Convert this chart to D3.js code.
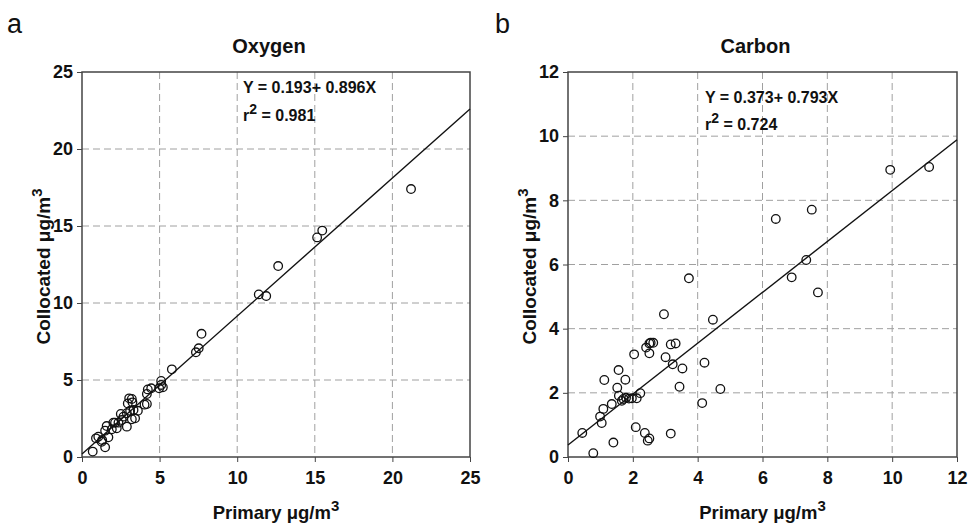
<!DOCTYPE html>
<html><head><meta charset="utf-8">
<script src="https://cdn.jsdelivr.net/npm/d3@7"></script>
<style>body{margin:0;background:#fff}text{font-family:"Liberation Sans",Arial,sans-serif}</style>
</head><body><svg id="c" width="971" height="526"></svg>
<script>
const oxygenPrimary = [21.2,15.15,15.48,12.64,11.39,11.87,7.7,7.52,7.34,5.79,5.1,5.1,4.97,5.21,4.46,4.24,4.18,4.18,4.03,3.04,3.21,3.25,2.95,3.32,3.1,2.89,3.42,3.21,2.67,2.56,2.89,2.35,2.13,2.24,1.92,1.59,1.49,1.7,1.05,0.9,1.27,1.49,0.69,2.02,2.5,3.6,1.3];
const oxygenCollocated = [17.4,14.26,14.7,12.4,10.56,10.45,8.0,7.06,6.8,5.69,4.94,4.68,4.46,4.53,4.46,4.39,4.09,3.44,3.4,3.81,3.77,3.55,3.48,3.05,3.0,2.84,2.51,2.45,2.62,2.4,1.97,2.23,2.23,1.86,1.8,2.01,1.71,1.28,1.32,1.21,0.99,0.63,0.35,2.23,2.8,3.0,1.1];
const carbonPrimary = [9.94,11.14,7.52,6.41,7.35,6.9,7.71,3.73,2.96,4.47,2.51,2.55,2.63,2.41,2.51,3.17,3.32,2.04,3.01,3.23,3.53,4.21,1.56,1.12,1.77,3.44,4.7,1.52,1.57,1.71,1.79,1.88,1.97,2.12,2.23,1.66,1.35,4.14,1.09,0.99,1.04,0.44,2.09,2.37,2.51,2.46,3.17,1.4,0.78];
const carbonCollocated = [8.95,9.04,7.71,7.42,6.14,5.6,5.13,5.57,4.45,4.28,3.54,3.56,3.56,3.41,3.23,3.51,3.54,3.2,3.11,2.89,2.76,2.94,2.71,2.4,2.41,2.19,2.12,2.16,1.91,1.81,1.85,1.82,1.83,1.83,1.99,1.75,1.65,1.68,1.5,1.26,1.06,0.75,0.93,0.75,0.58,0.51,0.73,0.45,0.12];
const oxygenTicks = [0,5,10,15,20,25];
const carbonTicks = [0,2,4,6,8,10,12];
const panels = [
  {letter:"a", title:"Oxygen", xs:oxygenPrimary, ys:oxygenCollocated, ticks:oxygenTicks, max:25, a:0.193, b:0.896, eq:"Y = 0.193+ 0.896X", r2:"0.981",
   left:82, right:470, eqX:243, eqY:93, r2Y:121, letterX:7},
  {letter:"b", title:"Carbon", xs:carbonPrimary, ys:carbonCollocated, ticks:carbonTicks, max:12, a:0.373, b:0.793, eq:"Y = 0.373+ 0.793X", r2:"0.724",
   left:568, right:957, eqX:705, eqY:103, r2Y:130, letterX:495}
];
const svg = d3.select("#c");
const plotTop = 72, plotBottom = 457;
panels.forEach(p => {
  const x = d3.scaleLinear().domain([0,p.max]).range([p.left,p.right]);
  const y = d3.scaleLinear().domain([0,p.max]).range([plotBottom,plotTop]);
  const g = svg.append("g");
  g.selectAll(".gx").data(p.ticks.slice(1,-1)).join("line")
    .attr("x1",d=>x(d)).attr("x2",d=>x(d)).attr("y1",plotTop).attr("y2",plotBottom)
    .attr("stroke","#a0a0a0").attr("stroke-width",1).attr("stroke-dasharray","7,4");
  g.selectAll(".gy").data(p.ticks.slice(1,-1)).join("line")
    .attr("y1",d=>y(d)).attr("y2",d=>y(d)).attr("x1",p.left).attr("x2",p.right)
    .attr("stroke","#a0a0a0").attr("stroke-width",1).attr("stroke-dasharray","7,4");
  g.append("rect").attr("x",p.left).attr("y",plotTop).attr("width",p.right-p.left).attr("height",plotBottom-plotTop)
    .attr("fill","none").attr("stroke","#444").attr("stroke-width",1.5);
  const xa = g.append("g").attr("transform",`translate(0,${plotBottom})`)
    .call(d3.axisBottom(x).tickValues(p.ticks).tickSize(5).tickPadding(9));
  xa.select(".domain").remove();
  xa.selectAll("line").attr("stroke","#444");
  xa.selectAll("text").attr("font-weight","bold").attr("font-size",18).attr("fill","#111");
  const ya = g.append("g").attr("transform",`translate(${p.left},0)`)
    .call(d3.axisLeft(y).tickValues(p.ticks).tickSize(5).tickPadding(4));
  ya.select(".domain").remove();
  ya.selectAll("line").attr("stroke","#444");
  ya.selectAll("text").attr("font-weight","bold").attr("font-size",18).attr("fill","#111");
  g.append("line").attr("x1",x(0)).attr("y1",y(p.a)).attr("x2",x(p.max)).attr("y2",y(p.a+p.b*p.max))
    .attr("stroke","#111").attr("stroke-width",1.4);
  g.selectAll("circle.pt").data(p.xs.map((v,i)=>[v,p.ys[i]])).join("circle")
    .attr("cx",d=>x(d[0])).attr("cy",d=>y(d[1])).attr("r",4.3)
    .attr("fill","none").attr("stroke","#111").attr("stroke-width",1.3);
  svg.append("text").attr("x",p.letterX).attr("y",33).attr("font-size",27).attr("fill","#111").text(p.letter);
  svg.append("text").attr("x",(p.left+p.right)/2 - 7).attr("y",53).attr("text-anchor","middle")
    .attr("font-weight","bold").attr("font-size",20).attr("fill","#111").text(p.title);
  svg.append("text").attr("x",p.eqX).attr("y",p.eqY).attr("font-weight","bold").attr("font-size",16).attr("fill","#111").text(p.eq);
  const r = svg.append("text").attr("x",p.eqX).attr("y",p.r2Y).attr("font-weight","bold").attr("font-size",16).attr("fill","#111");
  r.append("tspan").text("r");
  r.append("tspan").attr("dy",-7).attr("font-size",14).text("2");
  r.append("tspan").attr("dy",7).text(" = " + p.r2);
  const xt = svg.append("text").attr("x",(p.left+p.right)/2).attr("y",519).attr("text-anchor","middle")
    .attr("font-weight","bold").attr("font-size",18.5).attr("fill","#111");
  xt.append("tspan").text("Primary \u03bcg/m");
  xt.append("tspan").attr("dy",-8).attr("font-size",15).text("3");
  const yt = svg.append("text").attr("transform",`translate(${p.left-32},${(plotTop+plotBottom)/2 + 2}) rotate(-90)`)
    .attr("text-anchor","middle").attr("font-weight","bold").attr("font-size",19).attr("fill","#111");
  yt.append("tspan").text("Collocated \u03bcg/m");
  yt.append("tspan").attr("dy",-8).attr("font-size",15).text("3");
});
</script></body></html>
